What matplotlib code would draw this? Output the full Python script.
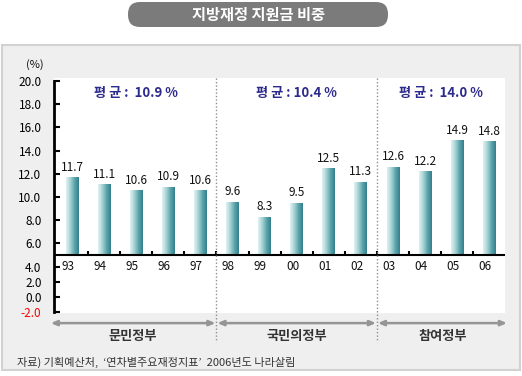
import matplotlib
matplotlib.use("Agg")
import matplotlib.pyplot as plt
import numpy as np
from matplotlib.patches import FancyBboxPatch, Rectangle
from matplotlib.colors import LinearSegmentedColormap
import matplotlib.transforms as mtransforms

plt.rcParams['font.family'] = ['Noto Sans CJK KR', 'DejaVu Sans']

title = "지방재정 지원금 비중"
years = ["93", "94", "95", "96", "97", "98", "99", "00", "01", "02", "03", "04", "05", "06"]
values = [11.7, 11.1, 10.6, 10.9, 10.6, 9.6, 8.3, 9.5, 12.5, 11.3, 12.6, 12.2, 14.9, 14.8]
groups = ["문민정부", "국민의정부", "참여정부"]
group_sizes = [5, 5, 4]
averages = ["평 균 :  10.9 %", "평 균 : 10.4 %", "평 균 :  14.0 %"]
upper_ticks = [20.0, 18.0, 16.0, 14.0, 12.0, 10.0, 8.0, 6.0]
lower_ticks = [4.0, 2.0, 0.0, -2.0]
source = "자료) 기획예산처,  ‘연차별주요재정지표’  2006년도 나라살림"
base = 5.0

W, H = 522, 376
fig = plt.figure(figsize=(W / 100, H / 100), dpi=100)
px = fig.dpi_scale_trans  # inches

def P(x, y):
    return x / 100, (H - y) / 100

# outer gray panel
x0, y0 = P(2, 370)
fig.add_artist(Rectangle((x0, y0), 518 / 100, 325 / 100, transform=px,
                         facecolor="#efefef", edgecolor="#d2d2d2", lw=1.5, zorder=0))
# title pill
x0, y0 = P(128, 27)
fig.add_artist(FancyBboxPatch((x0, y0), 260 / 100, 25 / 100, transform=px,
                              boxstyle="round,pad=0,rounding_size=0.12",
                              facecolor="#7b7b7b", edgecolor="none", zorder=1))
fig.text(258 / W, 1 - 15 / H, title, color="white", fontsize=11, fontweight="bold",
         ha="center", va="center")

ax = fig.add_axes([54 / W, 1 - 313 / H, (505 - 54) / W, (313 - 78) / H])
ax.set_facecolor("white")
x = np.arange(len(values))

heights = [v - base for v in values]
bars = ax.bar(x, heights, bottom=base, width=0.4, color="none", edgecolor="none", zorder=2)
cmap = LinearSegmentedColormap.from_list("g", ["#e2f2f2", "#a6d3d5", "#5ea3aa", "#31808b"])
grad = np.linspace(0, 1, 64).reshape(1, -1)
for b in bars:
    bx, by, bw, bh = b.get_x(), b.get_y(), b.get_width(), b.get_height()
    im = ax.imshow(grad, extent=[bx, bx + bw, by, by + bh], cmap=cmap, aspect="auto",
                   zorder=2, interpolation="bilinear")
    im.set_clip_path(b)
ax.set_xlim(-0.56, 13.49)
ax.set_ylim(0, 20.26)

for xi, v in zip(x, values):
    ax.annotate(f"{v:.1f}", (xi, v), xytext=(0, 2.5), textcoords="offset points",
                ha="center", va="bottom", fontsize=8.5, color="#111")

# baseline
ax.axhline(base, color="black", lw=1.5, zorder=3)
ax.vlines(x[:-1] + 0.5, base, base + 0.35, color="black", lw=1.5, zorder=3)
for xi, lab in zip(x, years):
    ax.annotate(lab, (xi, base), xytext=(-3, -3.5), textcoords="offset points",
                ha="center", va="top", fontsize=8.5, color="#111")

# y axis
ypos_lower = [4 - (4 - v) * 0.65 for v in lower_ticks]
ax.set_yticks(upper_ticks + ypos_lower)
ax.set_yticklabels([f"{v:.1f}" for v in upper_ticks + lower_ticks], fontsize=8.5)
for t in ax.get_yticklabels()[-1:]:
    t.set_color("red")
ax.tick_params(axis="y", direction="in", length=4, width=1.5, color="black", pad=9)
ax.set_xticks([])
for s in ["top", "right", "bottom"]:
    ax.spines[s].set_visible(False)
ax.spines["left"].set_linewidth(2)
ax.spines["left"].set_bounds(0.05, 20.0)
fig.text(35 / W, 1 - 65 / H, "(%)", fontsize=8, ha="center", va="center", color="#111")

# separators, group arrows, labels
bl = mtransforms.blended_transform_factory(ax.transData, ax.transAxes)
bounds = [-0.69]
acc = 0
for g in group_sizes[:-1]:
    acc += g
    bounds.append(acc - 0.5)
bounds.append(13.58)
for sx in bounds[1:-1]:
    ax.plot([sx, sx], [1.0, -0.123], transform=bl, clip_on=False, color="#8f8f8f",
            lw=1, ls=(0, (1, 1.5)), zorder=4)
ya = -0.043
for i, (g, avg) in enumerate(zip(groups, averages)):
    a, b = bounds[i], bounds[i + 1]
    ax.annotate("", xy=(b - 0.03, ya), xytext=(a + 0.03, ya), xycoords=bl, textcoords=bl,
                arrowprops=dict(arrowstyle="<|-|>,head_length=0.35,head_width=0.15",
                                color="#959595", lw=1.8, shrinkA=0, shrinkB=0),
                annotation_clip=False)
    ax.text((a + b) / 2, -0.098, g, transform=bl, ha="center", va="center",
            fontsize=9.5, fontweight="bold", color="#333")
    mid = (max(a, -0.5) + min(b, 13.5)) / 2
    ax.text(mid, 1 - (93 - 78) / 235, avg, transform=bl, ha="center", va="center",
            fontsize=9.5, fontweight="bold", color="#2c2a8c")

fig.text(17 / W, 1 - 362 / H, source, fontsize=8, color="#333", ha="left", va="center")

fig.savefig("out.png", dpi=100)
